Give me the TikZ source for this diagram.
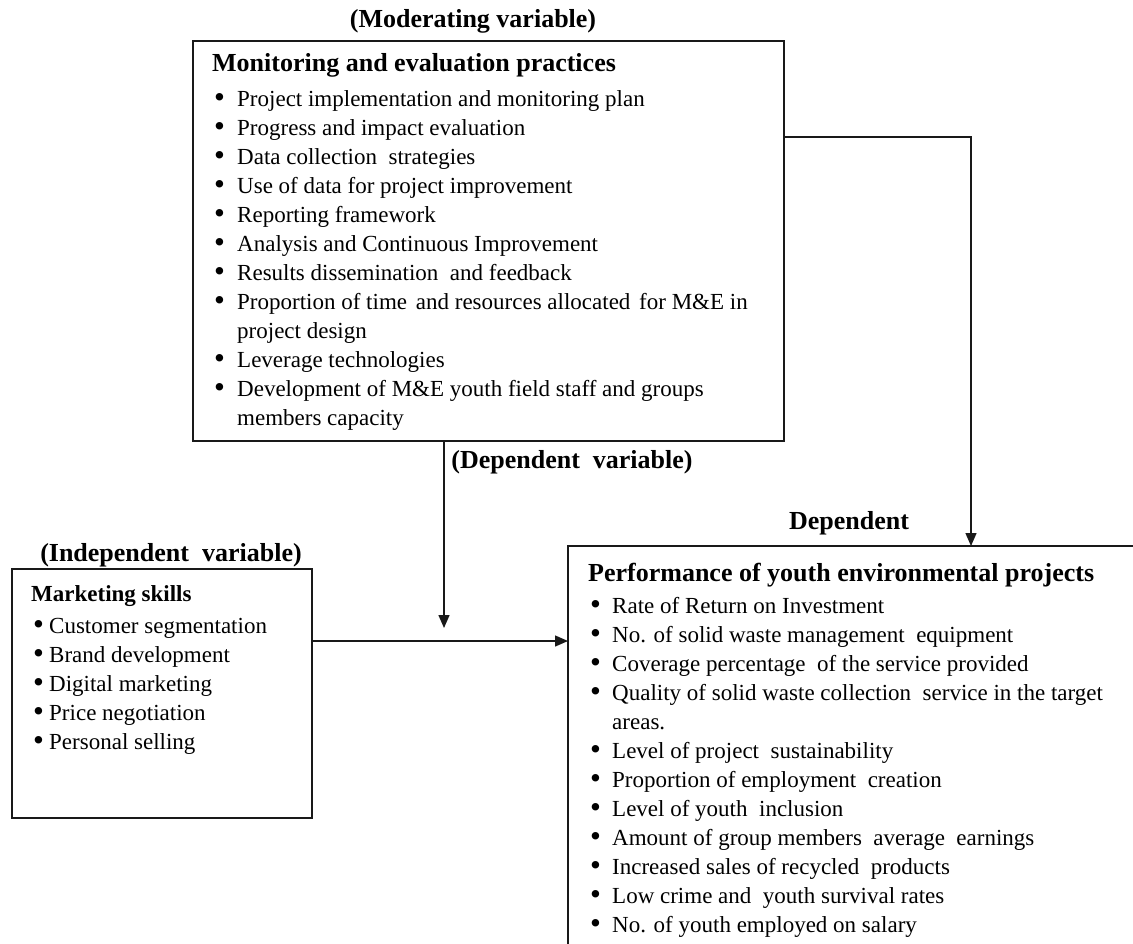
\documentclass[tikz,border=0pt]{standalone}
\usepackage{fontspec}
\setmainfont{Liberation Serif}
\usetikzlibrary{arrows.meta,calc}
\newcommand\itm[1]{\makebox[#1][l]{\hspace{2pt}\raisebox{-1.6pt}{\scalebox{1.35}{\textbullet}}}}
\begin{document}
\begin{tikzpicture}[x=1pt,y=-1pt,
  box/.style={draw=black!90,line width=1.5pt,rectangle,inner sep=0pt,outer sep=0pt,anchor=north west},
  body/.style={anchor=base west,inner sep=0pt,align=flush left,font=\fontsize{23}{29}\selectfont},
  lbl/.style={font=\fontsize{26}{29}\selectfont\bfseries,inner sep=0pt},
  arr/.style={draw=black!90,line width=1.4pt,-{Triangle[length=13pt,width=11pt]}}]
\useasboundingbox (0,0) rectangle (1133,943);
\clip (0,0) rectangle (1133,943);

% boxes
\node[box,minimum width=591pt,minimum height=400pt] (top) at (193,41) {};
\node[box,minimum width=300pt,minimum height=249pt] (mk) at (12,569) {};
\node[box,minimum width=620pt,minimum height=430pt] (perf) at (568,546) {};

% labels
\node[lbl] (modl) at (473,21) {(Moderating variable)};
\node[lbl] (indl) at (171,555) {(Independent\ \ variable)};
\node[lbl] (depl) at (572,462) {(Dependent\ \ variable)};
\node[lbl] (dep) at (849,523) {Dependent};

% contents
\node[body,text width=570pt] (mecont) at (212,71) {{\fontsize{26}{29}\selectfont\bfseries Monitoring and evaluation practices}\\[6pt]
\itm{25pt}Project implementation and monitoring plan\\
\itm{25pt}Progress and impact evaluation\\
\itm{25pt}Data collection\ \ strategies\\
\itm{25pt}Use of data\ for project improvement\\
\itm{25pt}Reporting framework\\
\itm{25pt}Analysis and Continuous Improvement\\
\itm{25pt}Results dissemination\ \ and feedback\\
\itm{25pt}Proportion of time\hspace{3pt} and resources allocated\hspace{3pt} for M\&E in\\
\hspace*{25pt}project design\\
\itm{25pt}Leverage technologies\\
\itm{25pt}Development of M\&E youth field\ staff and groups\\
\hspace*{25pt}members capacity};

\node[body,text width=280pt] (mkcont) at (31,601) {\textbf{Marketing skills}\\[3pt]
\itm{18pt}Customer segmentation\\
\itm{18pt}Brand development\\
\itm{18pt}Digital marketing\\
\itm{18pt}Price negotiation\\
\itm{18pt}Personal selling};

\node[body,text width=600pt] (perfcont) at (588,581) {{\fontsize{26}{29}\selectfont\bfseries Performance of youth environmental projects}\\[3pt]
\itm{24pt}Rate of Return\ on Investment\\
\itm{24pt}No. of solid waste management\ \ equipment\\
\itm{24pt}Coverage percentage\ \ of the service provided\\
\itm{24pt}Quality of solid waste collection\ \ service in the target\\
\hspace*{24pt}areas.\\
\itm{24pt}Level of project\ \ sustainability\\
\itm{24pt}Proportion of employment\ \ creation\\
\itm{24pt}Level of youth\ \ inclusion\\
\itm{24pt}Amount of group members\ \ average\ \ earnings\\
\itm{24pt}Increased sales of recycled\ \ products\\
\itm{24pt}Low crime and\ \ youth survival rates\\
\itm{24pt}No. of youth employed\ on salary};

% connectors
\draw[arr] ([yshift=-96pt]top.north east) -| ([xshift=403pt]perf.north west);
\coordinate (join) at (444,628);
\draw[arr] (top.south west -| join) -- (join);
\draw[arr] ([yshift=52.5pt]mk.east) coordinate (h) -- (h -| perf.west);
\end{tikzpicture}
\end{document}
